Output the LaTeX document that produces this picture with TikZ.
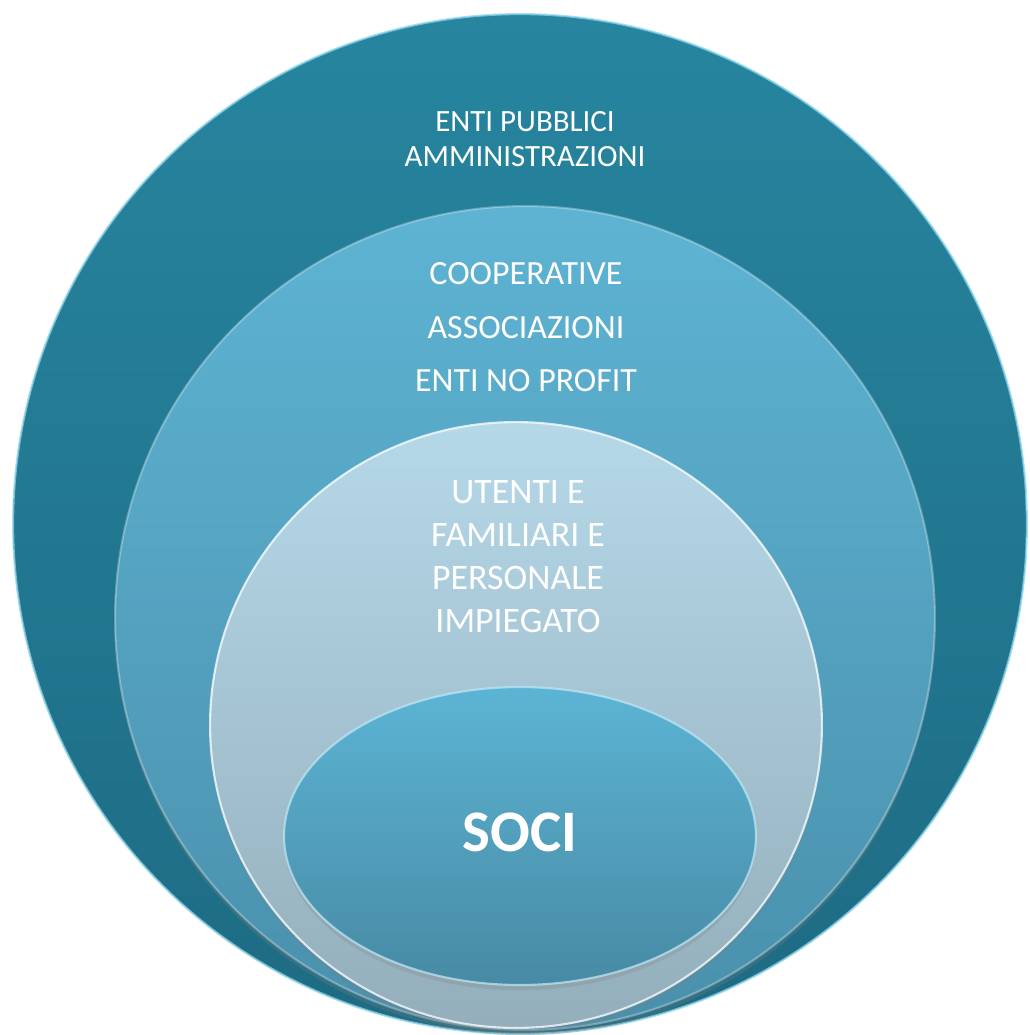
\documentclass[tikz,border=0pt]{standalone}
\usepackage{fontspec}
\setmainfont{Carlito}
\usetikzlibrary{positioning,shapes.geometric,shadows}

\definecolor{entitop}{HTML}{27859F}
\definecolor{entibot}{HTML}{1D6B83}
\definecolor{cooptop}{HTML}{5EB3D3}
\definecolor{coopbot}{HTML}{4990AC}
\definecolor{utentitop}{HTML}{B5D8E8}
\definecolor{utentibot}{HTML}{94AEBB}
\definecolor{socitop}{HTML}{5CB4D4}
\definecolor{socibot}{HTML}{478AA4}
\definecolor{rim}{HTML}{8FD6EC}

\begin{document}
\begin{tikzpicture}[x=0.02cm,y=-0.02cm,
		% livelli ellittici sfumati
		ring/.style={ellipse, inner sep=0pt, draw=white, draw opacity=0.75, line width=1.2pt},
		% ombra leggera sotto i livelli interni
		shadowed/.style={drop shadow={opacity=0.25, shadow xshift=0pt, shadow yshift=-3pt}},
		% testo bianco centrato
		txt/.style={text=white, inner sep=0pt, font=\fontsize{17.6}{21}\selectfont}
	]
	\useasboundingbox (0,0) rectangle (1029,1035);

	%Rings
	\node[ring, draw=rim, top color=entitop, bottom color=entibot, minimum width=20.28cm, minimum height=20.4cm]         (enti)   at (520,524) {};
	\node[ring, shadowed, draw opacity=0.3, top color=cooptop, bottom color=coopbot, minimum width=16.4cm, minimum height=16.48cm] (coop) at (525,618) {};
	\node[ring, shadowed, top color=utentitop, bottom color=utentibot, minimum width=12.24cm, minimum height=12.12cm]   (utenti) at (516,725) {};
	\node[ring, shadowed, draw=rim!60!white, top color=socitop, bottom color=socibot, minimum width=9.44cm, minimum height=5.96cm] (soci) at (520,836) {};

	%Labels
	\node[txt]      (entitxt)   at (525,122)                                        {ENTI PUBBLICI};
	\node[txt]      (ammtxt)    [below of=entitxt, node distance=0.7cm]             {AMMINISTRAZIONI};
	\node[txt, font=\fontsize{19.3}{23}\selectfont]   (cooptxt)   at (526,274)      {COOPERATIVE};
	\node[txt, font=\fontsize{19.3}{23}\selectfont]   (assotxt)   [below of=cooptxt, node distance=1.08cm]  {ASSOCIAZIONI};
	\node[txt, font=\fontsize{19.3}{23}\selectfont]   (nptxt)     [below of=assotxt, node distance=1.06cm]  {ENTI NO PROFIT};
	\node[txt, font=\fontsize{20.4}{24}\selectfont]   (uttxt)     at (518,492)      {UTENTI E};
	\node[txt, font=\fontsize{20.4}{24}\selectfont]   (famtxt)    [below of=uttxt, node distance=0.86cm]    {FAMILIARI E};
	\node[txt, font=\fontsize{20.4}{24}\selectfont]   (perstxt)   [below of=famtxt, node distance=0.86cm]   {PERSONALE};
	\node[txt, font=\fontsize{20.4}{24}\selectfont]   (impitxt)   [below of=perstxt, node distance=0.86cm]  {IMPIEGATO};
	\node[txt, font=\bfseries\fontsize{33.5}{40}\selectfont] (socitxt) at (520,832)  {SOCI};
\end{tikzpicture}
\end{document}
